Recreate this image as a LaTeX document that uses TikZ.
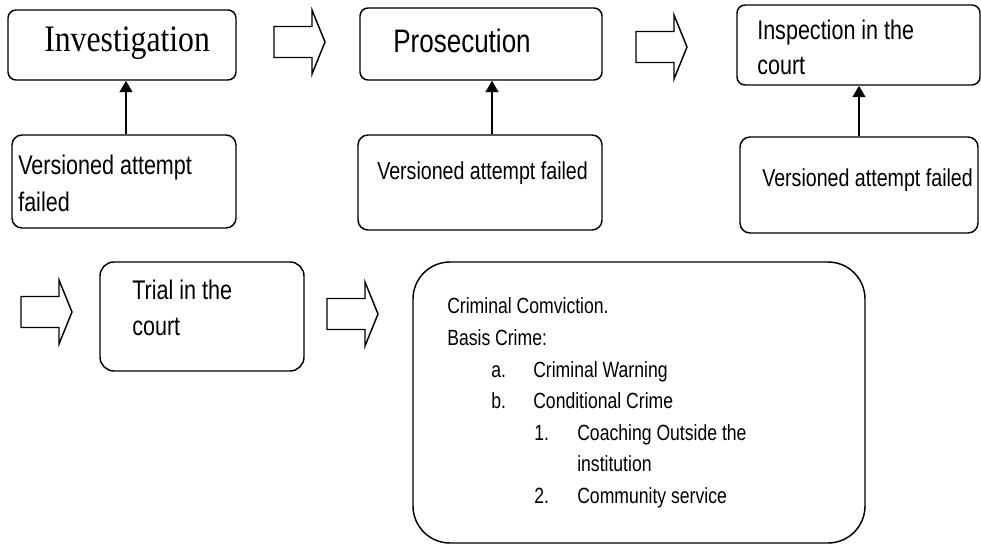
\documentclass[tikz,border=0pt]{standalone}
\usepackage{fontspec}
\setmainfont{Liberation Sans}[FakeStretch=0.8]
\newfontfamily\serifnarrow{Liberation Serif}[FakeStretch=0.85]
\usetikzlibrary{arrows.meta}
\tikzset{
  box/.style={draw, line width=1.1pt, inner sep=0pt, rounded corners=7.5pt},
  txt/.style={anchor=base west, inner sep=0pt, align=left},
  conn/.style={line width=1.5pt, -{Triangle[width=9.5pt,length=8.5pt]}},
  pics/blockarrow/.style={code={
    \draw[line width=1.1pt, line join=miter]
      (0,-15.5) -- (38,-15.5) -- (38,-32) -- (51,0) -- (38,32) -- (38,15.5) -- (0,15.5) -- cycle;}}
}
\begin{document}
\begin{tikzpicture}[x=0.75pt,y=-0.75pt]
\useasboundingbox (0,0) rectangle (981,545);
% boxes
\node[box, rounded corners=6pt, minimum width=171pt, minimum height=52.5pt] (inv) at (122,45) {};
\node[box, minimum width=168pt, minimum height=69.75pt] (v1) at (124,181.5) {};
\node[box, rounded corners=6pt, minimum width=181.5pt, minimum height=54pt] (pros) at (481,44) {};
\node[box, minimum width=183pt, minimum height=71.25pt] (v2) at (480,182.5) {};
\node[box, rounded corners=6pt, minimum width=182.25pt, minimum height=60pt] (insp) at (858.5,45) {};
\node[box, minimum width=178.5pt, minimum height=72pt] (v3) at (859,185) {};
\node[box, rounded corners=10.5pt, minimum width=153pt, minimum height=81.75pt] (trial) at (202,316.5) {};
\node[box, rounded corners=27.75pt, minimum width=339pt, minimum height=210.75pt] (conv) at (639,402.5) {};
% texts
\node[txt, font=\serifnarrow\fontsize{28}{32}\selectfont] (tinv) at (44,52) {Investigation};
\node[txt, font=\fontsize{24.4}{28}\selectfont] (tpros) at (393,53) {Prosecution};
\node[txt, font=\fontsize{20.2}{24}\selectfont] (tinsp1) at (757,40) {Inspection in the};
\node[txt, font=\fontsize{20.2}{24}\selectfont] (tinsp2) at (757,75) {court};
\node[txt, font=\fontsize{20.2}{24}\selectfont] (tv1a) at (18,175) {Versioned attempt};
\node[txt, font=\fontsize{20.2}{24}\selectfont] (tv1b) at (18,212) {failed};
\node[txt, font=\fontsize{18.4}{22}\selectfont] (tv2) at (377,180) {Versioned attempt failed};
\node[txt, font=\fontsize{18.4}{22}\selectfont] (tv3) at (762,187) {Versioned attempt failed};
\node[txt, font=\fontsize{20.2}{24}\selectfont] (ttr1) at (132,300) {Trial in the};
\node[txt, font=\fontsize{20.2}{24}\selectfont] (ttr2) at (132,335) {court};
\begin{scope}[every node/.style={txt, font=\fontsize{16.5}{20}\selectfont}]
\node (c1) at (447,313) {Criminal Comviction.};
\node (c2) at (447,345) {Basis Crime:};
\node (c3) at (491,377) {\makebox[31.5pt][l]{a.}Criminal Warning};
\node (c4) at (491,408) {\makebox[31.5pt][l]{b.}Conditional Crime};
\node (c5) at (534,440) {\makebox[32.25pt][l]{1.}Coaching Outside the};
\node (c6) at (577,471) {institution};
\node (c7) at (534,503) {\makebox[32.25pt][l]{2.}Community service};
\end{scope}
% connectors
\draw[conn] ([xshift=1.5pt]v1.north) -- ([xshift=1.5pt]v1.north |- inv.south);
\draw[conn] ([xshift=9pt]v2.north) -- ([xshift=9pt]v2.north |- pros.south);
\draw[conn] (v3.north) -- (v3.north |- insp.south);
% block arrows
\pic (ba1) at (274,42) {blockarrow};
\pic (ba2) at (636,47) {blockarrow};
\pic (ba3) at (21,312) {blockarrow};
\pic (ba4) at (327,314) {blockarrow};
\end{tikzpicture}
\end{document}
